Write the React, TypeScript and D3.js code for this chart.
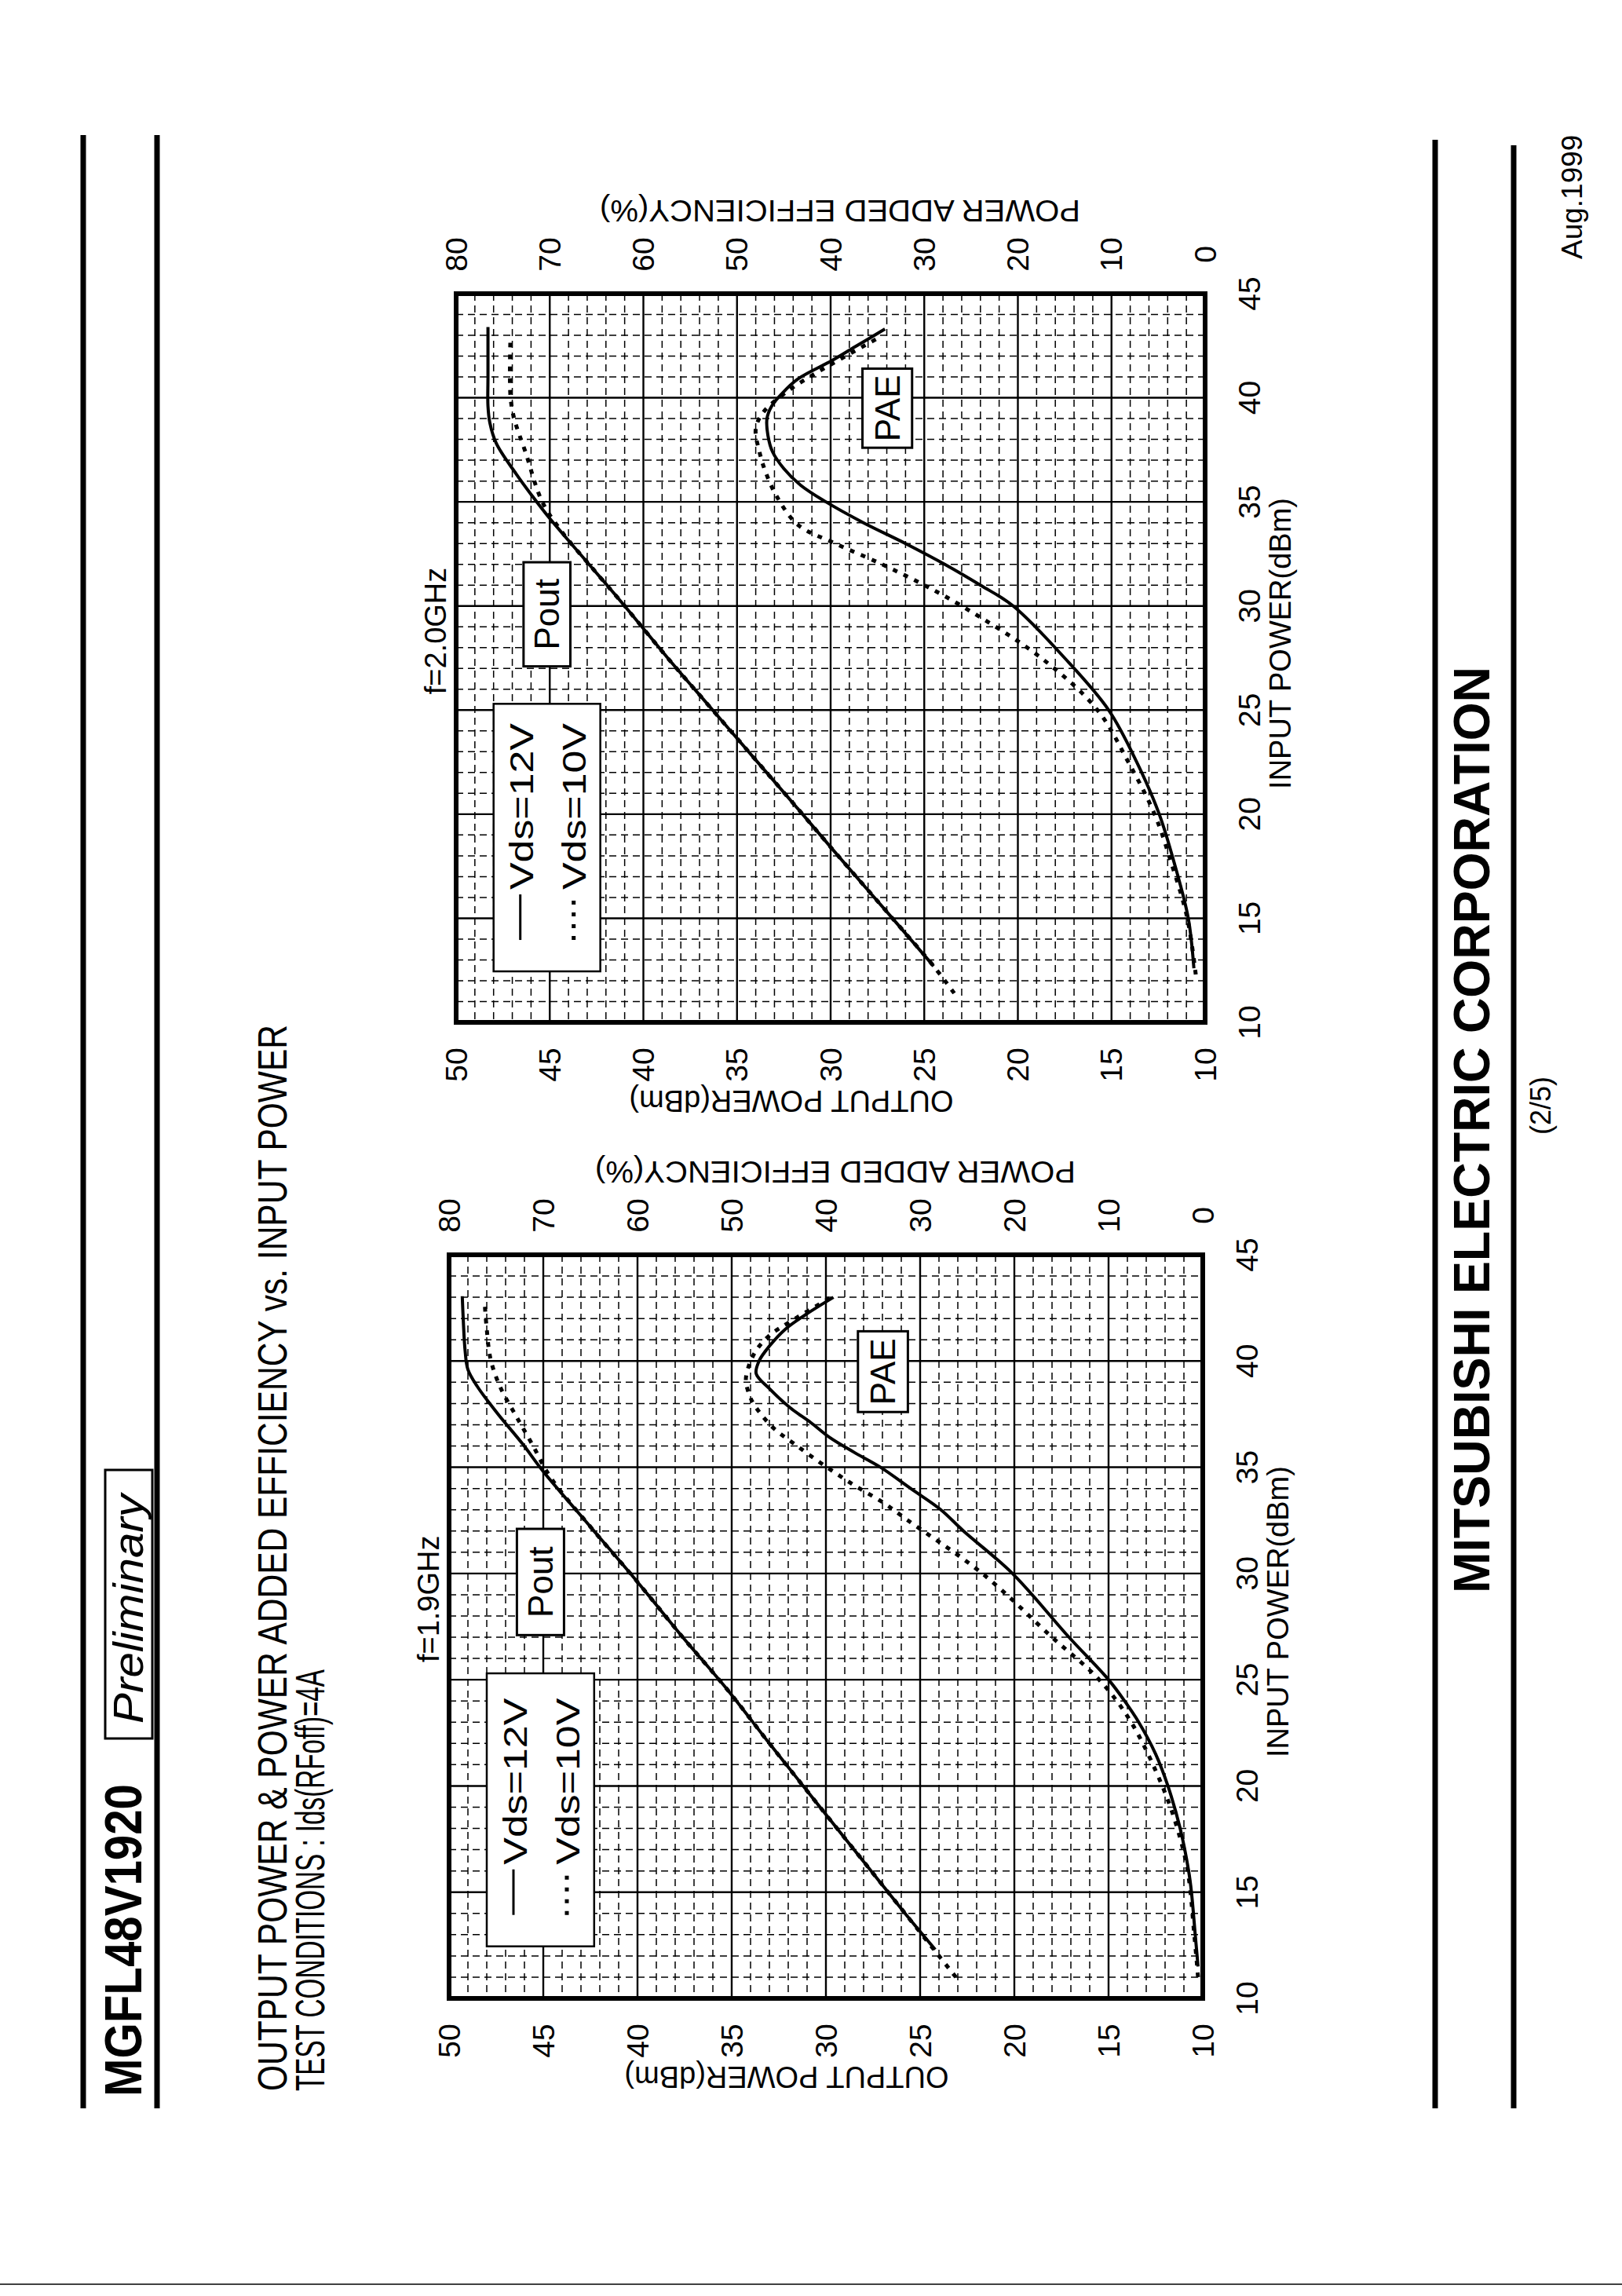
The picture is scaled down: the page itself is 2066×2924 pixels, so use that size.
import React from 'react';
import * as d3 from 'd3';

const W = 2066;
const H = 2924;
const FONT = "'Liberation Sans', Arial, Helvetica, sans-serif";

// ---------- data ----------
const inputTicks = [10, 15, 20, 25, 30, 35, 40, 45];
const outputTicks = [10, 15, 20, 25, 30, 35, 40, 45, 50];
const paeTicks = [0, 10, 20, 30, 40, 50, 60, 70, 80];

// [input dBm, output dBm]
const pout19_12V: [number, number][] = [[12.3, 24.2], [14, 25.8], [16, 27.6], [19.1, 30.4], [22, 33.0], [24.5, 35.2], [27, 37.6], [29.6, 40.0], [32.2, 42.5], [34.8, 45.0], [36.1, 46.1], [37.5, 47.4], [38.8, 48.5], [39.6, 49.0], [40.5, 49.15], [42, 49.25], [43.05, 49.3]];
const pout19_10V: [number, number][] = [[11.0, 23.1], [12.0, 24.0], [14, 25.8], [16, 27.6], [19.1, 30.4], [22, 33.0], [24.5, 35.2], [27, 37.6], [29.6, 40.0], [32.2, 42.5], [34.5, 44.6], [36.1, 45.6], [37.5, 46.5], [38.8, 47.3], [40.1, 47.8], [41.5, 48.0], [42.6, 48.1]];
// [input dBm, PAE %]
const pae19_12V: [number, number][] = [[11.5, 0.5], [13, 0.8], [15, 1.2], [16, 1.5], [18, 2.4], [20, 3.7], [21.5, 5.0], [23, 6.8], [24, 8.3], [25, 10.0], [27, 14.2], [30, 20.2], [32, 25.4], [33, 27.8], [34, 31.0], [35, 34.2], [35.7, 37.0], [36.4, 39.6], [37.1, 41.6], [37.8, 43.8], [38.7, 46.0], [39.4, 47.4], [40.0, 47.1], [40.7, 46.0], [41.5, 44.3], [42.2, 42.1], [43.0, 39.2]];
const pae19_10V: [number, number][] = [[11, 0.5], [13, 0.9], [16, 1.6], [18, 2.7], [20, 4.3], [23, 7.6], [25, 11.0], [27, 16.0], [30, 23.4], [32.5, 31.3], [33.3, 33.8], [34.1, 36.8], [35, 39.9], [36.05, 43.2], [36.9, 45.7], [38, 47.7], [38.5, 48.2], [39.1, 48.5], [39.75, 48.2], [40.5, 47.4], [41.2, 46.0], [41.85, 43.8], [42.96, 39.6]];

const pout20_12V: [number, number][] = [[12.7, 24.5], [15, 26.7], [18, 29.6], [20, 31.5], [22.5, 33.9], [25, 36.3], [27.5, 38.7], [30, 41.0], [32, 42.9], [34.2, 45.0], [35.3, 45.95], [36.35, 46.8], [37.8, 47.85], [38.8, 48.2], [39.6, 48.3], [41, 48.3], [43.4, 48.3]];
const pout20_10V: [number, number][] = [[11.4, 23.4], [12.7, 24.5], [15, 26.7], [18, 29.6], [20, 31.5], [22.5, 33.9], [25, 36.3], [27.5, 38.7], [30, 41.0], [32, 42.9], [33.5, 44.3], [35, 45.4], [37.4, 46.3], [39, 46.9], [40.1, 47.1], [42.9, 47.1]];
const pae20_12V: [number, number][] = [[12.6, 1.2], [15, 1.8], [17.5, 3.2], [20, 4.9], [22.5, 7.3], [25, 10.3], [27.5, 15.0], [30, 20.5], [31, 24], [32, 27.8], [33, 32], [34, 36.5], [35, 40.5], [35.8, 43.2], [36.6, 45.0], [37.4, 46.2], [38.2, 46.7], [39, 46.8], [39.6, 46.3], [40.2, 45.2], [40.9, 43.5], [41.8, 39.8], [42.5, 37.2], [43.3, 34.2]];
const pae20_10V: [number, number][] = [[12.3, 1.0], [15, 1.9], [17.5, 3.5], [20, 5.4], [22.5, 8.2], [25, 11.5], [27.5, 17.5], [30, 26.0], [31, 30], [32, 34.5], [33, 39.5], [33.9, 43.5], [35.3, 45.8], [36.5, 47.0], [37.4, 47.6], [38.5, 48.0], [39.3, 47.2], [40.35, 44.5], [41.2, 41.5], [42, 38.4], [42.9, 34.8]];

const legendLabels = ['Vds=12V', 'Vds=10V'];

// ---------- helpers ----------
type TP = {
  x: number; y: number; rot?: number; size?: number; anchor?: string; weight?: string | number;
  style?: string; baseline?: string; len?: number; children: React.ReactNode;
};
function T({ x, y, rot = -90, size = 38, anchor = 'middle', weight = 'normal', style = 'normal', baseline = 'central', len, children }: TP) {
  const extra: any = {};
  if (len) { extra.textLength = len; extra.lengthAdjust = 'spacingAndGlyphs'; }
  return (
    <text transform={`translate(${x},${y}) rotate(${rot})`} textAnchor={anchor} dominantBaseline={baseline}
      fontFamily={FONT} fontSize={size} fontWeight={weight} fontStyle={style} fill="#000" {...extra}>
      {children}
    </text>
  );
}

type ChartProps = {
  left: number; right: number; top: number; bottom: number; title: string;
  pout12: [number, number][]; pout10: [number, number][]; pae12: [number, number][]; pae10: [number, number][];
};

function Chart({ left, right, top, bottom, title, pout12, pout10, pae12, pae10 }: ChartProps) {
  const yIn = d3.scaleLinear().domain([10, 45]).range([bottom, top]);
  const xOut = d3.scaleLinear().domain([10, 50]).range([right, left]);
  const xPae = d3.scaleLinear().domain([0, 80]).range([right, left]);
  const curve = d3.curveCatmullRom.alpha(0.5);
  const lineOut = d3.line<[number, number]>().x(d => xOut(d[1])).y(d => yIn(d[0])).curve(curve);
  const linePae = d3.line<[number, number]>().x(d => xPae(d[1])).y(d => yIn(d[0])).curve(curve);

  const minorIn = d3.range(11, 45).filter(v => v % 5 !== 0);
  const majorIn = d3.range(15, 45, 5);
  const minorOut = d3.range(11, 50).filter(v => v % 5 !== 0);
  const majorOut = d3.range(15, 50, 5);

  const midX = (left + right) / 2;

  // legend / tag boxes in data units
  const lgX0 = xOut(48.0), lgX1 = xOut(42.3), lgY0 = yIn(25.3), lgY1 = yIn(12.45);
  const poutBox = { x0: xOut(46.4), x1: xOut(43.9), y0: yIn(32.1), y1: yIn(27.1) };
  const paeBox = { x0: xPae(36.6), x1: xPae(31.3), y0: yIn(41.4), y1: yIn(37.6) };

  return (
    <g>
      {/* grid */}
      {minorIn.map(v => (
        <line key={'mi' + v} x1={left} x2={right} y1={yIn(v)} y2={yIn(v)} stroke="#000" strokeWidth={1.5} strokeDasharray="9,6" />
      ))}
      {minorOut.map(v => (
        <line key={'mo' + v} x1={xOut(v)} x2={xOut(v)} y1={top} y2={bottom} stroke="#000" strokeWidth={1.5} strokeDasharray="9,6" />
      ))}
      {majorIn.map(v => (
        <line key={'Mi' + v} x1={left} x2={right} y1={yIn(v)} y2={yIn(v)} stroke="#000" strokeWidth={2.4} />
      ))}
      {majorOut.map(v => (
        <line key={'Mo' + v} x1={xOut(v)} x2={xOut(v)} y1={top} y2={bottom} stroke="#000" strokeWidth={2.4} />
      ))}

      {/* legend box */}
      <rect x={lgX0} y={lgY0} width={lgX1 - lgX0} height={lgY1 - lgY0} fill="#fff" stroke="#000" strokeWidth={2.5} />
      <line x1={lgX0 + 34} x2={lgX0 + 34} y1={lgY1 - 40} y2={lgY1 - 98} stroke="#000" strokeWidth={3} />
      <line x1={lgX0 + 102} x2={lgX0 + 102} y1={lgY1 - 40} y2={lgY1 - 98} stroke="#000" strokeWidth={5} strokeDasharray="5,10" />
      <T x={lgX0 + 36} y={lgY1 - 104} anchor="start" size={42} len={212}>{legendLabels[0]}</T>
      <T x={lgX0 + 103} y={lgY1 - 104} anchor="start" size={42} len={212}>{legendLabels[1]}</T>

      {/* tag boxes */}
      <rect x={poutBox.x0} y={poutBox.y0} width={poutBox.x1 - poutBox.x0} height={poutBox.y1 - poutBox.y0} fill="#fff" stroke="#000" strokeWidth={3} />
      <T x={(poutBox.x0 + poutBox.x1) / 2} y={(poutBox.y0 + poutBox.y1) / 2} size={44}>Pout</T>
      <rect x={paeBox.x0} y={paeBox.y0} width={paeBox.x1 - paeBox.x0} height={paeBox.y1 - paeBox.y0} fill="#fff" stroke="#000" strokeWidth={3} />
      <T x={(paeBox.x0 + paeBox.x1) / 2} y={(paeBox.y0 + paeBox.y1) / 2} size={44}>PAE</T>

      {/* curves */}
      <path d={lineOut(pout12) || ''} fill="none" stroke="#000" strokeWidth={4} />
      <path d={lineOut(pout10) || ''} fill="none" stroke="#000" strokeWidth={5} strokeDasharray="6,9" />
      <path d={linePae(pae12) || ''} fill="none" stroke="#000" strokeWidth={4} />
      <path d={linePae(pae10) || ''} fill="none" stroke="#000" strokeWidth={5} strokeDasharray="6,9" />

      {/* frame */}
      <rect x={left} y={top} width={right - left} height={bottom - top} fill="none" stroke="#000" strokeWidth={6} />

      {/* tick labels */}
      {outputTicks.map(v => (
        <T key={'ot' + v} x={xOut(v)} y={bottom + 54} size={39}>{v}</T>
      ))}
      {paeTicks.map(v => (
        <T key={'pt' + v} x={xPae(v)} y={top - 50} size={39}>{v}</T>
      ))}
      {inputTicks.map(v => (
        <T key={'it' + v} x={right + 56} y={yIn(v)} size={39}>{v}</T>
      ))}

      {/* axis titles */}
      <T x={right + 96} y={yIn(28.2)} size={38}>INPUT POWER(dBm)</T>
      <T x={midX - 50} y={bottom + 100} rot={180} size={38}>OUTPUT POWER(dBm)</T>
      <T x={midX + 12} y={top - 106} rot={180} size={38} len={612}>POWER ADDED EFFICIENCY(%)</T>
      <T x={left - 26} y={yIn(28.8)} size={38}>{title}</T>
    </g>
  );
}

export default function App() {
  return (
    <svg width={W} height={H} viewBox={`0 0 ${W} ${H}`} style={{ position: 'absolute', left: 0, top: 0, background: '#fff' }}>
      <rect x={0} y={0} width={W} height={H} fill="#fff" />

      {/* header */}
      <line x1={106} x2={106} y1={172} y2={2685} stroke="#000" strokeWidth={7} />
      <line x1={200} x2={200} y1={172} y2={2685} stroke="#000" strokeWidth={7} />
      <T x={180} y={2670} anchor="start" baseline="alphabetic" size={66} weight="bold" len={398}>MGFL48V1920</T>
      <rect x={134} y={1872} width={60} height={342} fill="none" stroke="#000" strokeWidth={3} />
      <T x={182} y={2195} anchor="start" baseline="alphabetic" size={54} style="italic" len={292}>Preliminary</T>
      <T x={365} y={2663} anchor="start" baseline="alphabetic" size={52} len={1358}>OUTPUT POWER &amp; POWER ADDED EFFICIENCY vs. INPUT POWER</T>
      <T x={413} y={2663} anchor="start" baseline="alphabetic" size={52} len={537}>TEST CONDITIONS : Ids(RFoff)=4A</T>

      {/* charts */}
      <Chart left={572} right={1532} top={1598} bottom={2545} title="f=1.9GHz"
        pout12={pout19_12V} pout10={pout19_10V} pae12={pae19_12V} pae10={pae19_10V} />
      <Chart left={581} right={1535} top={374} bottom={1302} title="f=2.0GHz"
        pout12={pout20_12V} pout10={pout20_10V} pae12={pae20_12V} pae10={pae20_10V} />

      {/* footer */}
      <line x1={1828} x2={1828} y1={178} y2={2685} stroke="#000" strokeWidth={7} />
      <line x1={1928} x2={1928} y1={185} y2={2685} stroke="#000" strokeWidth={7} />
      <T x={1897} y={2029} anchor="start" baseline="alphabetic" size={64} weight="bold" len={1180}>MITSUBISHI ELECTRIC CORPORATION</T>
      <T x={1962} y={1408} size={36}>(2/5)</T>
      <T x={2015} y={330} anchor="start" baseline="alphabetic" size={37}>Aug.1999</T>
      <line x1={0} x2={W} y1={2909} y2={2909} stroke="#000" strokeWidth={1.5} />
    </svg>
  );
}
